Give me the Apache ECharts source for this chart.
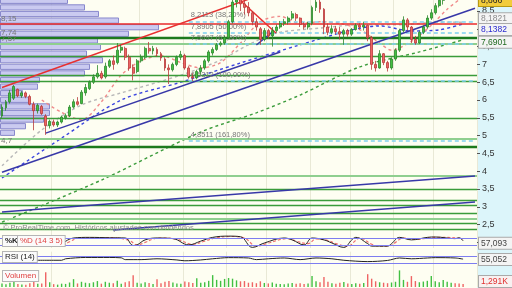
<!DOCTYPE html>
<html><head><meta charset="utf-8">
<script src="https://cdn.jsdelivr.net/npm/echarts@6/dist/echarts.min.js"></script>
<style>html,body{margin:0;padding:0;background:#fefef2;}#c{width:512px;height:288px;}</style>
</head><body><div id="c"></div>
<script>
// ---------- DATA ----------
const categories = Array.from({length:120}, (_, i) => 'd' + i);
// candles: [open, close, low, high]
const ohlc = [
[5.55,5.80,5.50,5.88],[5.78,5.95,5.70,6.00],[5.95,6.20,5.90,6.28],[6.05,6.38,6.00,6.42],[6.30,6.12,6.08,6.32],
[6.12,6.20,6.06,6.25],[6.20,6.10,6.05,6.24],[6.10,5.88,5.85,6.15],[5.88,5.70,5.15,5.95],[5.70,5.85,5.62,5.90],
[5.82,5.62,5.58,5.86],[5.55,5.28,5.02,5.60],[5.28,5.40,5.20,5.45],[5.38,5.30,5.25,5.45],[5.30,5.38,5.24,5.42],
[5.38,5.52,5.34,5.56],[5.50,5.56,5.45,5.62],[5.56,5.80,5.52,5.86],[5.80,5.95,5.76,6.02],[5.95,5.88,5.84,6.08],
[5.90,6.22,5.88,6.28],[6.20,6.35,6.12,6.45],[6.32,6.50,6.28,6.55],[6.50,6.65,6.45,6.72],[6.65,6.75,6.60,6.98],
[6.75,6.62,6.58,6.82],[6.65,6.95,6.60,7.05],[6.95,7.10,6.90,7.15],[7.10,7.00,6.85,7.25],[7.05,7.40,7.00,7.60],
[7.40,7.48,7.32,7.55],[7.45,7.20,7.12,7.50],[7.20,6.90,6.82,7.28],[6.92,6.75,6.55,7.00],[6.80,7.10,6.75,7.15],
[7.10,7.20,7.05,7.28],[7.20,7.45,7.15,7.50],[7.45,7.38,7.30,7.63],[7.38,7.45,7.28,7.52],[7.42,7.30,7.22,7.48],
[7.30,7.18,7.10,7.35],[7.15,6.90,6.82,7.20],[6.90,6.85,6.45,7.00],[6.85,7.00,6.80,7.05],[7.00,7.20,6.95,7.25],
[7.20,7.28,7.12,7.38],[7.25,6.90,6.85,7.30],[6.90,6.65,6.60,6.95],[6.65,6.62,6.53,6.75],[6.62,6.80,6.58,6.85],
[6.80,6.90,6.72,6.98],[6.90,7.10,6.85,7.15],[7.10,7.35,7.05,7.40],[7.32,7.42,7.25,7.48],[7.42,7.55,7.38,7.60],
[7.55,7.60,7.50,7.65],[7.60,7.75,7.55,7.80],[7.75,8.20,7.70,8.25],[8.20,8.75,8.15,8.85],[8.75,9.00,8.60,9.25],
[8.95,8.70,8.50,9.20],[8.70,8.60,8.40,8.85],[8.60,8.45,8.35,8.75],[8.45,8.20,8.10,8.50],[8.20,8.05,7.95,8.30],
[8.00,7.70,7.55,8.05],[7.70,7.95,7.65,8.02],[7.95,7.80,7.72,8.00],[7.80,7.95,7.50,8.05],[7.95,8.05,7.90,8.12],
[8.05,8.15,8.00,8.22],[8.15,8.20,8.08,8.28],[8.20,8.30,8.12,8.35],[8.30,8.42,8.25,8.50],[8.40,8.30,8.22,8.45],
[8.30,8.12,8.05,8.32],[8.12,8.05,7.98,8.18],[8.05,8.15,7.98,8.20],[8.15,8.60,8.10,8.65],[8.60,8.75,8.50,8.85],
[8.75,8.55,8.45,8.82],[8.55,8.05,7.85,8.58],[8.05,7.90,7.82,8.15],[7.90,8.00,7.85,8.10],[8.00,7.92,7.85,8.08],
[7.92,7.85,7.70,8.05],[7.85,7.95,7.55,8.00],[7.95,7.85,7.78,8.00],[7.85,7.98,7.80,8.02],[7.98,8.10,7.95,8.15],
[8.10,8.05,7.98,8.16],[8.05,8.10,7.95,8.20],[8.10,7.75,7.65,8.12],[7.75,7.00,6.85,7.80],[7.00,6.90,6.80,7.10],
[6.90,7.30,6.88,7.40],[7.30,7.05,6.98,7.32],[7.05,6.90,6.80,7.10],[6.90,7.15,6.85,7.20],[7.15,7.40,7.10,7.45],
[7.40,7.95,7.35,8.00],[7.95,8.25,7.90,8.35],[8.25,8.05,7.95,8.30],[8.05,7.70,7.60,8.08],[7.70,7.60,7.55,7.80],
[7.60,7.90,7.58,7.95],[7.90,8.05,7.85,8.10],[8.05,8.30,8.00,8.38],[8.30,8.45,8.25,8.55],[8.45,8.65,8.40,8.72],
[8.65,8.80,8.60,8.85],[8.80,8.85,8.68,8.95],[8.85,8.95,8.83,9.05],[8.95,9.00,8.88,9.10],[9.00,8.95,8.86,9.10],
[8.95,8.92,8.85,9.05],[8.92,8.87,8.84,9.00]
];
const volumeK = [
1.5,1.2,1.8,2.4,1.3,1.1,1.0,1.6,3.0,1.4,
1.5,6.2,2.0,1.2,1.0,1.4,1.3,1.9,3.3,1.5,
2.2,1.8,1.6,2.0,2.5,1.4,2.2,1.8,1.6,2.6,
1.4,2.0,2.4,5.0,1.8,1.5,2.0,1.7,1.3,3.3,
1.6,2.2,2.5,1.9,1.5,1.4,2.3,2.0,1.7,3.7,
1.8,2.0,2.6,5.0,3.0,2.6,3.4,3.8,3.5,2.8,
2.4,2.5,1.8,2.0,1.6,2.4,1.7,1.5,1.9,1.4,
1.3,1.2,1.5,1.7,1.4,1.6,1.3,1.5,4.6,2.4,
2.0,4.2,2.2,1.6,1.4,1.8,2.1,1.5,1.3,1.6,
1.4,1.7,5.4,3.5,2.4,2.0,1.8,1.6,1.9,2.2,
7.0,3.0,2.2,4.6,2.5,2.0,2.3,2.6,4.6,2.4,
2.0,3.0,2.2,1.8,1.6,1.5,1.291
];
// moving averages: [index, price]
const maGrey  = [[0,4.15],[10,5.16],[20,5.86],[30,6.2],[45,6.7],[55,7.12],[62,7.55],[69,7.88],[80,8.02],[90,8.11],[100,8.11],[110,8.19],[116,8.1821]];
const maBlue  = [[0,3.81],[15,4.93],[30,6.0],[45,6.5],[60,7.04],[75,7.55],[88,7.97],[95,8.08],[103,7.94],[110,7.97],[116,8.1382]];
const maGreen = [[0,2.57],[25,3.75],[50,5.1],[64,5.64],[75,6.14],[90,6.93],[105,7.35],[116,7.6901]];
const maRed   = [[10,6.0],[15,5.65],[20,5.45],[25,5.95],[30,6.7],[35,7.1],[40,7.25],[45,7.05],[50,6.9],[55,7.05],[60,7.6],[65,8.2],[70,8.35],[75,8.15],[80,8.2],[85,8.15],[90,7.98],[95,7.6],[98,7.4],[103,7.65],[108,8.1],[112,8.55],[116,8.9]];
// horizontal levels
const redLevel = 8.15;
const darkGreenLevels = [7.74, 4.70];
const lightGreenLevels = [7.57, 4.90, 3.87, 2.66];
const midGreenLevels = [7.24, 6.70, 6.53, 5.49, 3.50, 3.19, 3.05, 2.83, 2.53, 2.36];
const fibLevels = [8.2113, 7.8905, 7.5697, 6.5312, 4.8511];
const fibLabels = ['8,2113 (38,20%)','7,8905 (50,00%)','7,5697 (61,80%)','6,5312 (100,00%)','4,8511 (161,80%)'];
// trend lines: [[i1,p1],[i2,p2]]
const redTrend = [[[0,6.35],[63,8.87]], [[59,8.89],[69,7.876]]];
const blueTrend = [[[0,3.969],[119,8.576]], [[11,5.07],[70,7.35]], [[64,7.545],[68,7.91]], [[0,2.854],[119,3.865]], [[28,2.348],[119,3.135]]];
// volume profile
const profilePrices = ['8.79','8.60','8.42','8.23','8.05','7.86','7.68','7.49','7.31','7.12','6.94','6.75','6.57','6.38','6.20','6.01','5.83','5.64','5.46','5.27','5.09'];
const profileVolume = [68,85,99,119,159,129,98,101,87,103,90,85,40,38,23,29,50,50,44,26,15];
// stochastic & RSI
const stochK = [[8,20],[14,22],[15,35],[18,80],[22,85],[27,82],[31,80],[33,20],[34,25],[36,65],[39,80],[43,75],[47,25],[50,55],[53,85],[57,95],[60,90],[63,5],[66,40],[71,80],[73,65],[76,25],[78,80],[81,65],[83,40],[86,5],[88,65],[89,85],[92,35],[93,15],[97,15],[98,35],[100,85],[103,65],[107,85],[109,88],[114,75],[115,82],[116,57.093]];
const stochD = [[9,22],[15,24],[17,50],[19,78],[23,84],[28,82],[32,60],[34,25],[36,45],[38,72],[40,80],[44,70],[48,30],[51,55],[54,82],[58,92],[61,80],[64,15],[67,40],[72,75],[74,55],[77,35],[79,72],[82,60],[84,35],[87,15],[89,60],[90,80],[93,30],[95,15],[98,22],[99,45],[101,80],[104,68],[108,84],[110,86],[115,78],[116,70]];
const rsi = [[8,48],[15,48],[16,57],[21,65],[27,65],[30,63],[31,52],[35,52],[39,57],[44,50],[46,45],[50,50],[53,57],[57,64],[62,62],[64,52],[67,57],[71,62],[75,52],[79,62],[83,57],[86,48],[92,40],[97,47],[100,62],[103,57],[107,62],[109,64],[114,62],[116,55.052]];
const gridLineIdx = [13,35,46,57,67,78,88,99,109];
const tags = [
  {v:8.866, t:'8,866', axis:0, dy:2, bg:'#f2cc3a', bd:'#b89a10', c:'#222'},
  {v:8.1821, t:'8,1821', axis:0, dy:-4, bg:'#f4f4f4', bd:'#aaaaaa', c:'#8a8a8a'},
  {v:8.1382, t:'8,1382', axis:0, dy:5, bg:'#f4f4f4', bd:'#aaaaaa', c:'#2a2ad0'},
  {v:7.6901, t:'7,6901', axis:0, dy:2, bg:'#f4f4f4', bd:'#aaaaaa', c:'#1f6a1f'},
  {v:57.093, t:'57,093', axis:2, dy:2, bg:'#f4f4f4', bd:'#aaaaaa', c:'#444'},
  {v:55.052, t:'55,052', axis:3, dy:0, bg:'#f4f4f4', bd:'#aaaaaa', c:'#444'},
  {v:1.291, t:'1,291K', axis:4, dy:-3, bg:'#f8f1f1', bd:'#aaaaaa', c:'#e03030'}
];

// ---------- CHART ----------
const chart = echarts.init(document.getElementById('c'), null, {width:512, height:288});
const upC = '#42c042', dnC = '#ef6464';
const splitCfg = {show:true, interval:(i)=>gridLineIdx.includes(i), lineStyle:{color:'#e9e9d6', width:1}};
function hLine(v, color, width, label) {
  const o = {yAxis:v, lineStyle:{color, width, type:'solid'}, label:{show:false}};
  if (label) o.label = {show:true, formatter:label, position:'insideStartTop', distance:1, color:'#777', fontSize:8, fontFamily:'Liberation Sans'};
  return o;
}
const levelLines = [];
levelLines.push(hLine(redLevel, '#e82a2a', 1.6, '8,15'));
lightGreenLevels.forEach(v => levelLines.push(hLine(v, '#8fcf8f', 2.2, v===7.57?'7,57':null)));
midGreenLevels.forEach(v => levelLines.push(hLine(v, '#3a9c3a', 1.3)));
darkGreenLevels.forEach(v => levelLines.push(hLine(v, '#1d7a1d', 2.4, v===7.74?'7,74':'4,7')));
const fibLines = fibLevels.map((v, k) => [
  {coord:[47, v], lineStyle:{color:'#7fd0f0', width:1.6, type:[4,3]},
   label:{show:true, formatter:fibLabels[k], position:'insideStartTop', distance:2, color:'#777', fontSize:7.5, fontFamily:'Liberation Sans'}},
  {coord:[119, v]}
]);
const trendLines = [];
redTrend.forEach(s => trendLines.push([{coord:s[0], lineStyle:{color:'#e83030', width:1.5, type:'solid'}}, {coord:s[1]}]));
blueTrend.forEach(s => trendLines.push([{coord:s[0], lineStyle:{color:'#3838a8', width:1.5, type:'solid'}}, {coord:s[1]}]));

function maSeries(data, color, z) {
  return {type:'line', xAxisIndex:0, yAxisIndex:0, data, symbol:'none', smooth:0.3, z,
    lineStyle:{color, width:1.4, type:[3,3]}, silent:true, animation:false};
}
const volData = volumeK.map((v, i) => ({value:v, itemStyle:{color: ohlc[i][1] >= ohlc[i][0] ? upC : dnC}}));
const gb = {outerBoundsMode:'none', containLabel:false};

chart.setOption({
  animation:false,
  backgroundColor:'#fefef2',
  grid:[
    Object.assign({left:0, right:35, top:-6.8, height:249.2}, gb),
    Object.assign({left:0, width:477, top:-2.5, height:138.6}, gb),
    Object.assign({left:0, right:35, top:235.5, height:12.5}, gb),
    Object.assign({left:0, right:35, top:251.7, height:16.5}, gb),
    Object.assign({left:0, right:35, top:268, height:19}, gb)
  ],
  xAxis:[
    {type:'category', data:categories, gridIndex:0, boundaryGap:true, axisLine:{show:false}, axisTick:{show:false}, axisLabel:{show:false}, splitLine:splitCfg},
    {type:'value', gridIndex:1, min:0, max:477, show:false},
    {type:'category', data:categories, gridIndex:2, axisLine:{show:false}, axisTick:{show:false}, axisLabel:{show:false}, splitLine:splitCfg},
    {type:'category', data:categories, gridIndex:3, axisLine:{show:false}, axisTick:{show:false}, axisLabel:{show:false}, splitLine:splitCfg},
    {type:'category', data:categories, gridIndex:4, axisLine:{show:false}, axisTick:{show:false}, axisLabel:{show:false}, splitLine:splitCfg}
  ],
  yAxis:[
    {type:'value', gridIndex:0, position:'right', min:2, max:9, interval:0.5,
      axisLine:{show:false}, axisTick:{show:true, length:3, lineStyle:{color:'#555'}}, splitLine:{show:false},
      axisLabel:{margin:5, fontSize:9, color:'#333', fontFamily:'Liberation Sans',
        formatter:(v)=> (v < 2.4 || v > 8.9) ? '' : String(v).replace('.', ',')}},
    {type:'category', gridIndex:1, data:profilePrices, inverse:true, show:false},
    {type:'value', gridIndex:2, min:0, max:100, show:false},
    {type:'value', gridIndex:3, min:0, max:100, show:false},
    {type:'value', gridIndex:4, min:0, max:8, show:false}
  ],
  series:[
    {type:'bar', xAxisIndex:1, yAxisIndex:1, data:profileVolume, barCategoryGap:'6%', z:1, silent:true,
      itemStyle:{color:'rgba(196,196,240,0.9)', borderColor:'#8888cc', borderWidth:1}},
    {type:'line', xAxisIndex:0, yAxisIndex:0, data:[], z:2, silent:true,
      markLine:{silent:true, symbol:'none', animation:false, data:levelLines.concat(fibLines)}},
    maSeries(maGreen, '#3c9c3c', 3),
    maSeries(maGrey, '#b8b8b8', 3),
    maSeries(maBlue, '#3a44e0', 3),
    maSeries(maRed, '#f08a8a', 3),
    {type:'line', xAxisIndex:0, yAxisIndex:0, data:[], z:4, silent:true,
      markLine:{silent:true, symbol:'none', animation:false, label:{show:false}, data:trendLines}},
    {type:'candlestick', xAxisIndex:0, yAxisIndex:0, data:ohlc, barWidth:2.4, z:6, silent:true,
      itemStyle:{color:upC, color0:dnC, borderColor:'#2c862c', borderColor0:'#b83a3a', borderWidth:0.8}},
    {type:'line', xAxisIndex:2, yAxisIndex:2, data:stochD, symbol:'none', smooth:0.4, z:3,
      lineStyle:{color:'#ee7070', width:1.2, type:[3,2]}},
    {type:'line', xAxisIndex:2, yAxisIndex:2, data:stochK, symbol:'none', smooth:0.4, z:4,
      lineStyle:{color:'#222', width:1},
      markLine:{silent:true, symbol:'none', label:{show:false}, lineStyle:{color:'#7d7df0', width:1.2, type:'solid'}, data:[{yAxis:80},{yAxis:20}]}},
    {type:'line', xAxisIndex:3, yAxisIndex:3, data:rsi, symbol:'none', smooth:0.3, z:4,
      lineStyle:{color:'#222', width:1},
      markLine:{silent:true, symbol:'none', label:{show:false}, lineStyle:{color:'#7d7df0', width:1.2, type:'solid'}, data:[{yAxis:70},{yAxis:30}]}},
    {type:'bar', xAxisIndex:4, yAxisIndex:4, data:volData, barWidth:1.4, z:3}
  ]
});

// tags and annotations
const g = [
  {type:'rect', left:477, top:0, shape:{width:35, height:288}, style:{fill:'#dcf5fa'}, z:-100, silent:true},
  {type:'text', left:3, top:224, style:{text:'\u00a9 ProRealTime.com  Hist\u00f3ricos ajustados con dividendos', fill:'#8a8a8a', fontSize:7.5, fontFamily:'Liberation Sans'}, z:50},
  {type:'text', left:2, top:235, style:{text:'%K', fill:'#222', fontSize:8, fontFamily:'Liberation Sans', fontWeight:'bold', backgroundColor:'#fbfbfb', borderColor:'#b5b5b5', borderWidth:1, padding:[1,2]}, z:50},
  {type:'text', left:17, top:235, style:{text:'%D (14 3 5)', fill:'#e04040', fontSize:8, fontFamily:'Liberation Sans', backgroundColor:'#fbfbfb', borderColor:'#b5b5b5', borderWidth:1, padding:[1,2]}, z:50},
  {type:'text', left:2, top:251, style:{text:'RSI (14)', fill:'#222', fontSize:8, fontFamily:'Liberation Sans', backgroundColor:'#fbfbfb', borderColor:'#b5b5b5', borderWidth:1, padding:[1,2]}, z:50},
  {type:'text', left:2, top:270, style:{text:'Volumen', fill:'#e04040', fontSize:8, fontFamily:'Liberation Sans', backgroundColor:'#fbfbfb', borderColor:'#b5b5b5', borderWidth:1, padding:[1,2]}, z:50}
];
tags.forEach(t => {
  const y = chart.convertToPixel({yAxisIndex:t.axis}, t.v) + t.dy;
  g.push({type:'text', left:478, top:y - 6, z:60,
    style:{text:t.t, fill:t.c, fontSize:8.5, fontFamily:'Liberation Sans', backgroundColor:t.bg, borderColor:t.bd, borderWidth:1, padding:[1,2], width:29}});
});
chart.setOption({graphic:{elements:g}});
</script></body></html>
